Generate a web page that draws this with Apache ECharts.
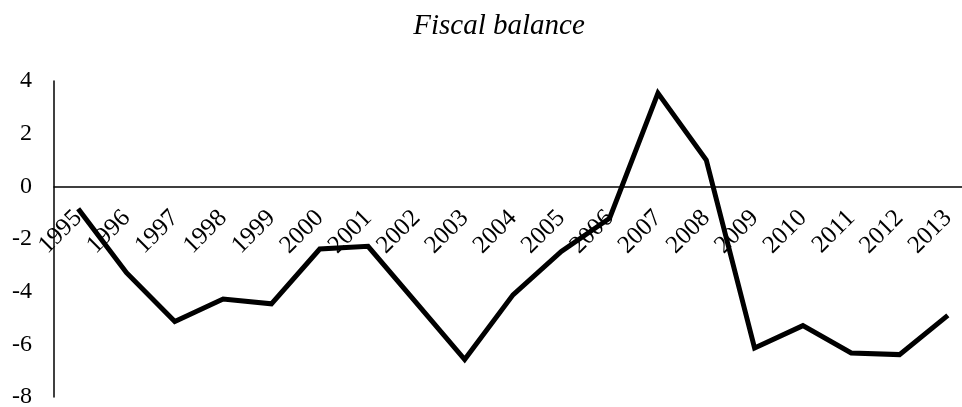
<!DOCTYPE html>
<html>
<head>
<meta charset="utf-8">
<script src="https://cdn.jsdelivr.net/npm/echarts@6/dist/echarts.min.js"></script>
<style>
  html, body { margin: 0; padding: 0; background: #fff; }
  #chart { width: 962px; height: 407px; }
</style>
</head>
<body>
<div id="chart"></div>
<script>
// Years on the category axis
const years = ['1995','1996','1997','1998','1999','2000','2001','2002','2003','2004',
               '2005','2006','2007','2008','2009','2010','2011','2012','2013'];
// Fiscal balance, % of GDP
const balance = [-0.85, -3.28, -5.13, -4.28, -4.46, -2.38, -2.28, -4.43, -6.58, -4.12,
                 -2.47, -1.21, 3.54, 1.0, -6.14, -5.29, -6.33, -6.39, -4.90];
// Value axis range and step
const yMin = -8, yMax = 4, yStep = 2;

const serif = '"Liberation Serif", "DejaVu Serif", serif';

// Plot area geometry
const gridTop = 81, gridHeight = 316;
// Pixel distance from the bottom of the plot up to the zero line,
// used to lift the year labels so they sit under the zero line
const zeroLift = gridHeight * (0 - yMin) / (yMax - yMin);

const chart = echarts.init(document.getElementById('chart'), null, { renderer: 'canvas' });
chart.setOption({
  animation: false,
  backgroundColor: '#ffffff',
  title: {
    text: 'Fiscal balance',
    left: 494,
    top: 7,
    textAlign: 'center',
    textStyle: { fontFamily: serif, fontStyle: 'italic', fontWeight: 'normal', fontSize: 29, color: '#000' }
  },
  grid: { left: 54, top: gridTop, width: 918, height: gridHeight, containLabel: false, outerBoundsMode: 'none' },
  xAxis: [{
    type: 'category',
    data: years,
    boundaryGap: true,
    axisLine: { onZero: true, lineStyle: { color: '#000', width: 1.5 } },
    axisTick: { show: false },
    axisLabel: { show: false },
    splitLine: { show: false }
  }, {
    // label-only copy of the year axis, placed at the zero line
    type: 'category',
    data: years,
    boundaryGap: true,
    position: 'bottom',
    offset: -zeroLift,
    axisLine: { show: false, onZero: false },
    axisTick: { show: false },
    axisLabel: { rotate: 45, margin: 28, interval: 0, fontFamily: serif, fontSize: 25, color: '#000' },
    splitLine: { show: false }
  }],
  yAxis: {
    type: 'value',
    min: yMin, max: yMax, interval: yStep,
    axisLine: { show: true, onZero: false, lineStyle: { color: '#000', width: 1.5 } },
    axisTick: { show: false },
    axisLabel: { margin: 22, fontFamily: serif, fontSize: 24, color: '#000' },
    splitLine: { show: false }
  },
  series: [{
    type: 'line',
    data: balance,
    xAxisIndex: 0,
    symbol: 'none',
    lineStyle: { color: '#000', width: 5, join: 'miter' },
    z: 1
  }]
});
</script>
</body>
</html>
